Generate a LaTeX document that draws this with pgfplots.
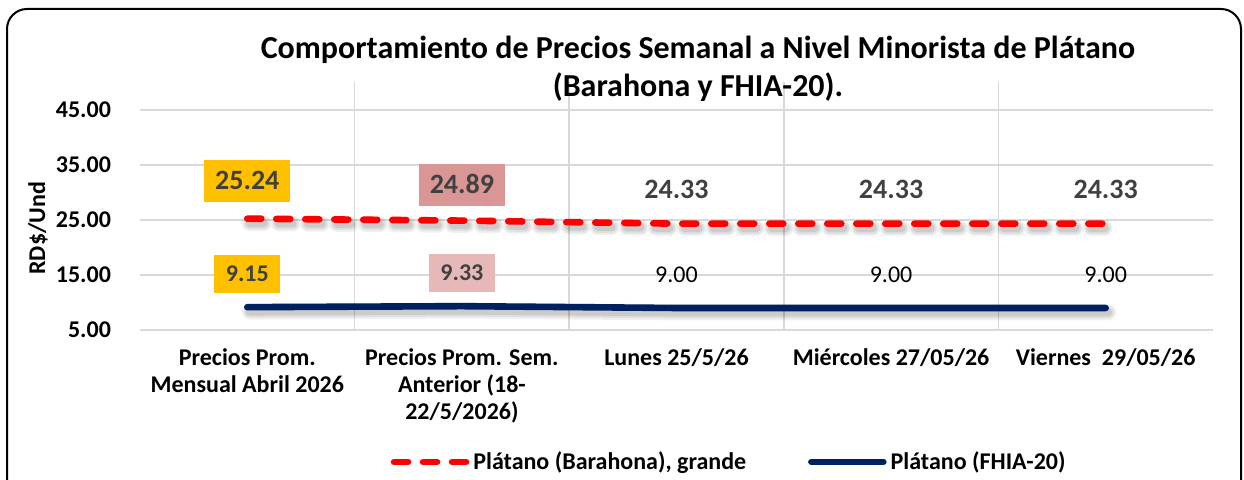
\documentclass[border=0pt]{standalone}
\usepackage{pgfplots}
\pgfplotsset{compat=1.18}
\usepackage{fontspec}
\setmainfont{Carlito}
\definecolor{gridc}{HTML}{D9D9D9}
\definecolor{navy}{HTML}{002060}
\definecolor{redl}{HTML}{FF0000}
\definecolor{yel}{HTML}{FFC000}
\definecolor{pinkA}{HTML}{D99694}
\definecolor{pinkB}{HTML}{E6B9B8}
\definecolor{lab}{HTML}{404040}
\pgfplotsset{
  redshadow/.style={forget plot, black, opacity=#1, dash pattern=on 7pt off 7.5pt, line cap=round, xshift=1.2pt, yshift=-2.2pt},
  blueshadow/.style={forget plot, black, opacity=#1, line cap=round, xshift=1.2pt, yshift=-2.2pt},
}
\begin{document}
\begin{tikzpicture}
\useasboundingbox (0,0) rectangle (622pt,240pt);
\clip (0,0) rectangle (622pt,240pt);
\draw[line width=1pt, rounded corners=10pt] (3.5pt,-20pt) rectangle (620.5pt,235.5pt);
\begin{axis}[
  at={(70pt,75pt)}, anchor=south west,
  scale only axis, width=536.5pt, height=123.75pt,
  xmin=-0.5, xmax=4.5, ymin=5, ymax=50,
  xtick={0,1,2,3,4},
  xticklabels={{Precios Prom.\\Mensual Abril 2026},{Precios Prom. Sem.\\Anterior (18-\\22/5/2026)},{Lunes 25/5/26},{Miércoles 27/05/26},{Viernes~~29/05/26}},
  minor xtick={0.5,1.5,2.5,3.5},
  ytick={5,15,25,35,45},
  ymajorgrids, xminorgrids,
  grid style={gridc, line width=0.75pt},
  major tick length=0pt, minor tick length=0pt,
  axis line style={draw=none},
  /pgf/number format/fixed zerofill,
  /pgf/number format/precision=2,
  /pgf/number format/assume math mode=true,
  yticklabel style={font=\fontsize{12}{14}\selectfont\bfseries, xshift=-11pt},
  xticklabel style={font=\fontsize{12}{13.5}\selectfont\bfseries, align=center, anchor=north, yshift=-6pt},
  ylabel={RD\$/Und},
  every axis y label/.style={at={(axis description cs:-0.095,0.411)}, rotate=90, anchor=center, font=\fontsize{12}{14}\selectfont\bfseries},
  title={Comportamiento de Precios Semanal a Nivel Minorista de Plátano\\(Barahona y FHIA-20).},
  every axis title/.style={at={(axis description cs:0.52,1.0545)}, anchor=center, align=center, font=\fontsize{16}{19}\selectfont\bfseries},
  legend style={at={(axis description cs:0.55,-0.533)}, anchor=center, draw=none, fill=none, legend columns=2, font=\fontsize{12}{14}\selectfont\bfseries, /tikz/every even column/.append style={column sep=29pt}},
  legend image code/.code={\draw[#1] (0pt,0pt) -- (36pt,0pt);},
]
% shadows (soft, layered)
\addplot[redshadow=0.06, line width=8pt] coordinates {(0,25.24)(1,24.89)(2,24.33)(3,24.33)(4,24.33)};
\addplot[redshadow=0.07, line width=6pt] coordinates {(0,25.24)(1,24.89)(2,24.33)(3,24.33)(4,24.33)};
\addplot[redshadow=0.09, line width=4pt] coordinates {(0,25.24)(1,24.89)(2,24.33)(3,24.33)(4,24.33)};
\addplot[blueshadow=0.06, line width=8pt] coordinates {(0,9.15)(1,9.33)(2,9.00)(3,9.00)(4,9.00)};
\addplot[blueshadow=0.07, line width=6pt] coordinates {(0,9.15)(1,9.33)(2,9.00)(3,9.00)(4,9.00)};
\addplot[blueshadow=0.09, line width=4pt] coordinates {(0,9.15)(1,9.33)(2,9.00)(3,9.00)(4,9.00)};
% lines
\addplot[redl, line width=3.3pt, dash pattern=on 7pt off 7.5pt, line cap=round] coordinates {(0,25.24)(1,24.89)(2,24.33)(3,24.33)(4,24.33)};
\addlegendentry{Plátano (Barahona), grande}
\addplot[navy, line width=3.3pt, line cap=round] coordinates {(0,9.15)(1,9.33)(2,9.00)(3,9.00)(4,9.00)};
\addlegendentry{Plátano (FHIA-20)}
% labels red
\addplot[forget plot, draw=none, nodes near coords, nodes near coords style={fill=yel, text=lab, font=\fontsize{14}{16}\selectfont\bfseries, anchor=center, yshift=19pt, inner xsep=5.5pt, inner ysep=6pt, text height=9pt, text depth=0pt}] coordinates {(0,25.24)};
\addplot[forget plot, draw=none, nodes near coords, nodes near coords style={fill=pinkA, text=lab, font=\fontsize{14}{16}\selectfont\bfseries, anchor=center, yshift=18pt, inner xsep=5.5pt, inner ysep=6pt, text height=9pt, text depth=0pt}] coordinates {(1,24.89)};
\addplot[forget plot, draw=none, nodes near coords, nodes near coords style={text=lab, font=\fontsize{14}{16}\selectfont\bfseries, anchor=center, yshift=17pt}] coordinates {(2,24.33)(3,24.33)(4,24.33)};
% labels blue
\addplot[forget plot, draw=none, nodes near coords, nodes near coords style={fill=yel, text=lab, font=\fontsize{12}{14}\selectfont\bfseries, anchor=center, yshift=16.5pt, inner xsep=5.75pt, inner ysep=5.7pt, text height=7.7pt, text depth=0pt}] coordinates {(0,9.15)};
\addplot[forget plot, draw=none, nodes near coords, nodes near coords style={fill=pinkB, text=lab, font=\fontsize{12}{14}\selectfont\bfseries, anchor=center, yshift=16.5pt, inner xsep=5.75pt, inner ysep=5.7pt, text height=7.7pt, text depth=0pt}] coordinates {(1,9.33)};
\addplot[forget plot, draw=none, nodes near coords, nodes near coords style={text=black, font=\fontsize{12}{14}\selectfont, anchor=center, yshift=16.5pt}] coordinates {(2,9.00)(3,9.00)(4,9.00)};
\end{axis}
\end{tikzpicture}
\end{document}
